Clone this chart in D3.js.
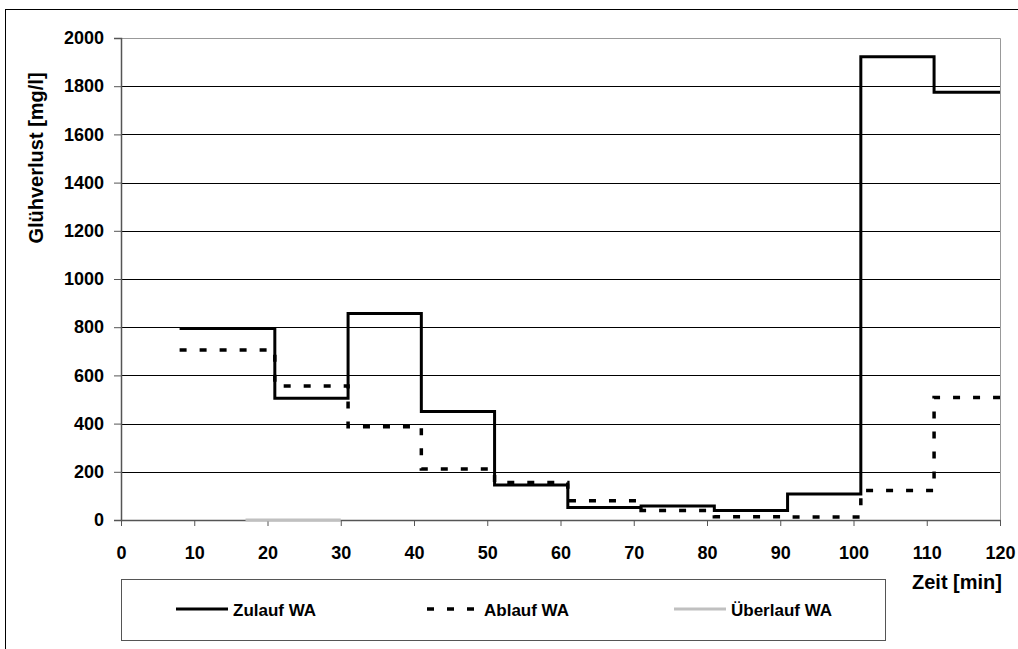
<!DOCTYPE html>
<html>
<head>
<meta charset="utf-8">
<script src="https://cdn.jsdelivr.net/npm/d3@7"></script>
<style>
  html, body { margin: 0; padding: 0; background: #fff; }
  svg { display: block; font-family: "Liberation Sans", Arial, sans-serif; }
</style>
</head>
<body>
<svg id="chart" width="1018" height="649"></svg>
<script>
// Step series: start time of each interval (last entry closes the final step)
const zulaufTime  = [8, 21, 31, 41, 51, 61, 71, 81, 91, 101, 111, 120];
const zulaufValue = [795, 505, 857, 450, 145, 52, 58, 39, 108, 1922, 1775, 1775];

const ablaufTime  = [8, 21, 31, 41, 51, 61, 71, 81, 91, 101, 111, 120];
const ablaufValue = [705, 556, 387, 212, 156, 80, 39, 14, 12, 122, 508, 508];

const ueberlaufTime  = [17, 30];
const ueberlaufValue = [0, 0];

const xTicks = [0, 10, 20, 30, 40, 50, 60, 70, 80, 90, 100, 110, 120];
const yTicks = [0, 200, 400, 600, 800, 1000, 1200, 1400, 1600, 1800, 2000];

const seriesNames = ["Zulauf WA", "Ablauf WA", "Überlauf WA"];

const svg = d3.select("#chart");
const plot = { left: 121, right: 1000, top: 38, bottom: 520 };
const FONT = "'Liberation Sans', Arial, sans-serif";

const x = d3.scaleLinear().domain([0, 120]).range([plot.left, plot.right]);
const y = d3.scaleLinear().domain([0, 2000]).range([plot.bottom, plot.top]);

// Outer chart frame (runs off the right and bottom edges)
svg.append("rect")
  .attr("x", 5.5).attr("y", 9.5).attr("width", 1040).attr("height", 700)
  .attr("fill", "none").attr("stroke", "#000").attr("stroke-width", 1);

// Horizontal gridlines
svg.append("g").selectAll("line")
  .data(yTicks.filter(t => t > 0 && t < 2000))
  .join("line")
  .attr("x1", plot.left).attr("x2", plot.right)
  .attr("y1", d => Math.round(y(d)) + 0.5).attr("y2", d => Math.round(y(d)) + 0.5)
  .attr("stroke", "#000").attr("stroke-width", 1);

// Plot area border (top and right)
svg.append("path")
  .attr("d", `M${plot.left},${plot.top + 0.5}H${plot.right + 0.5}V${plot.bottom}`)
  .attr("fill", "none").attr("stroke", "#999").attr("stroke-width", 1);

// Y axis
const yAxis = d3.axisLeft(y).tickValues(yTicks).tickSize(7).tickPadding(10).tickFormat(d3.format("d"));
const gy = svg.append("g").attr("transform", `translate(${plot.left},0)`).call(yAxis);
gy.select(".domain").attr("stroke", "#555").attr("stroke-width", 1.5);
gy.selectAll(".tick line").attr("stroke", "#555");
gy.selectAll("text")
  .attr("font-size", 18).attr("font-weight", "bold").attr("fill", "#000")
  .attr("font-family", FONT);

// X axis
const xAxis = d3.axisBottom(x).tickValues(xTicks).tickSize(6).tickSizeOuter(0).tickPadding(20).tickFormat(d3.format("d"));
const gx = svg.append("g").attr("transform", `translate(0,${plot.bottom})`).call(xAxis);
gx.select(".domain").attr("stroke", "#555").attr("stroke-width", 1.5);
gx.selectAll(".tick line").attr("stroke", "#555");
gx.selectAll("text")
  .attr("font-size", 18).attr("font-weight", "bold").attr("fill", "#000")
  .attr("font-family", FONT);

// Axis titles
svg.append("text")
  .attr("transform", "translate(43,158) rotate(-90)")
  .attr("text-anchor", "middle")
  .attr("font-size", 20).attr("font-weight", "bold")
  .text("Glühverlust [mg/l]");

svg.append("text")
  .attr("x", 1002).attr("y", 589)
  .attr("text-anchor", "end")
  .attr("font-size", 20).attr("font-weight", "bold")
  .text("Zeit [min]");

// Step lines
const step = d3.line().x(d => x(d[0])).y(d => y(d[1])).curve(d3.curveStepAfter);

svg.append("path")
  .datum(ueberlaufTime.map((t, i) => [t, ueberlaufValue[i]]))
  .attr("d", step).attr("fill", "none")
  .attr("stroke", "#c0c0c0").attr("stroke-width", 3);

svg.append("path")
  .datum(ablaufTime.map((t, i) => [t, ablaufValue[i]]))
  .attr("d", step).attr("fill", "none")
  .attr("stroke", "#000").attr("stroke-width", 3.5)
  .attr("stroke-dasharray", "7,13");

svg.append("path")
  .datum(zulaufTime.map((t, i) => [t, zulaufValue[i]]))
  .attr("d", step).attr("fill", "none")
  .attr("stroke", "#000").attr("stroke-width", 3)
  .attr("stroke-linejoin", "miter");

// Legend
const legend = svg.append("g");
legend.append("rect")
  .attr("x", 121.5).attr("y", 579.5).attr("width", 764).attr("height", 61)
  .attr("fill", "#fff").attr("stroke", "#555").attr("stroke-width", 1);

const legendItems = [
  { name: seriesNames[0], x1: 176, x2: 228, stroke: "#000", width: 3, dash: null },
  { name: seriesNames[1], x1: 427, x2: 479, stroke: "#000", width: 3.5, dash: "7,13" },
  { name: seriesNames[2], x1: 674, x2: 726, stroke: "#c0c0c0", width: 3, dash: null }
];
const ly = 609;
legendItems.forEach(it => {
  legend.append("line")
    .attr("x1", it.x1).attr("x2", it.x2).attr("y1", ly).attr("y2", ly)
    .attr("stroke", it.stroke).attr("stroke-width", it.width)
    .attr("stroke-dasharray", it.dash);
  legend.append("text")
    .attr("x", it.x2 + 5).attr("y", 616)
    .attr("font-size", 17).attr("font-weight", "bold")
    .attr("font-family", FONT)
    .text(it.name);
});
</script>
</body>
</html>
